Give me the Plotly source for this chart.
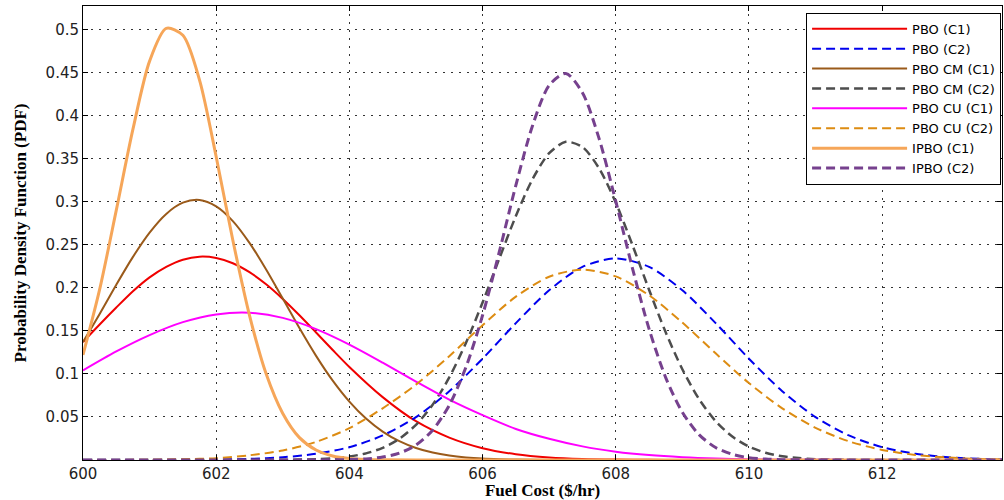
import plotly.graph_objects as go

# ---------------- data ----------------
X_HALF = [600, 600.5, 601, 601.5, 602, 602.5, 603, 603.5, 604, 604.5, 605, 605.5,
          606, 606.5, 607, 607.5, 608, 608.5, 609, 609.5, 610, 610.5, 611, 611.5,
          612, 612.5, 613, 613.5, 614]

X_PBO_C1 = [600, 600.25, 600.5, 600.75, 601, 601.25, 601.5, 601.75, 602, 602.25, 602.5, 602.75,
            603, 603.25, 603.5, 603.75, 604, 604.5, 605, 605.5, 606, 606.5, 607, 607.5,
            608, 608.5, 609, 609.5, 610, 610.5, 611, 611.5, 612, 612.5, 613, 613.5, 614]
PBO_C1 = [0.137, 0.1573, 0.177, 0.1959, 0.212, 0.2242, 0.2325, 0.236, 0.2345, 0.2284, 0.218, 0.204,
          0.187, 0.1681, 0.148, 0.1277, 0.108, 0.073, 0.045, 0.026, 0.0137, 0.0067, 0.003, 0.0012,
          0.0005, 0.0002, 0.0001, 0, 0, 0, 0, 0, 0, 0, 0, 0, 0]

PBO_C2 = [0, 0, 0.0001, 0.0002, 0.0005, 0.0013, 0.0032, 0.0072, 0.0149, 0.0285, 0.0498, 0.0799,
          0.1176, 0.1589, 0.197, 0.2242, 0.234, 0.2242, 0.197, 0.1589, 0.1176, 0.0799, 0.0498, 0.0285,
          0.0149, 0.0072, 0.0032, 0.0013, 0.0005]

PBO_CU_C1 = [0.104, 0.126, 0.145, 0.160, 0.169, 0.171, 0.165, 0.152, 0.134, 0.113, 0.091, 0.070,
             0.052, 0.036, 0.0246, 0.0158, 0.0097, 0.0057, 0.0032, 0.0017, 0.0009, 0.0004, 0.0002, 0.0001,
             0, 0, 0, 0, 0]

PBO_CU_C2 = [0, 0.0001, 0.0003, 0.0009, 0.0021, 0.0055, 0.011, 0.021, 0.037, 0.060, 0.0875, 0.1205,
             0.1565, 0.1896, 0.2127, 0.221, 0.2131, 0.1912, 0.1595, 0.1238, 0.0893, 0.060, 0.0374, 0.0217,
             0.0117, 0.0059, 0.0028, 0.0012, 0.0005]

X_CM_C1 = [600, 600.25, 600.5, 600.75, 601, 601.25, 601.5, 601.75, 602, 602.25, 602.5, 602.75,
           603, 603.25, 603.5, 603.75, 604, 604.25, 604.5, 604.75, 605, 605.25, 605.5, 605.75,
           606, 606.25, 606.5, 607, 614]
PBO_CM_C1 = [0.137, 0.1696, 0.2035, 0.2358, 0.264, 0.2857, 0.2987, 0.3018, 0.2944, 0.2773, 0.252, 0.2212,
             0.1874, 0.1532, 0.1209, 0.0921, 0.0678, 0.0481, 0.033, 0.0218, 0.0139, 0.0086, 0.0051, 0.0029,
             0.0016, 0.0009, 0.0005, 0.0001, 0]

X_CM_C2 = [600, 602, 602.5, 603, 603.5, 603.75, 604, 604.25, 604.5, 604.75, 605, 605.25,
           605.5, 605.75, 606, 606.25, 606.5, 606.75, 607, 607.25, 607.5, 607.75, 608, 608.25,
           608.5, 608.75, 609, 609.25, 609.5, 609.75, 610, 610.25, 610.5, 610.75, 611, 611.5,
           612, 614]
PBO_CM_C2 = [0, 0, 0, 0.0002, 0.0009, 0.0019, 0.004, 0.0077, 0.0141, 0.0246, 0.0408, 0.0642,
             0.0958, 0.1359, 0.1828, 0.2335, 0.2832, 0.3259, 0.3561, 0.3693, 0.3633, 0.3385, 0.2988, 0.2497,
             0.1977, 0.1482, 0.1053, 0.0708, 0.0451, 0.0272, 0.0155, 0.0084, 0.0043, 0.0022, 0.001, 0.0002,
             0, 0]

X_IPBO_C1 = [600, 600.25, 600.5, 600.75, 601, 601.25, 601.5, 601.75, 602, 602.25, 602.5, 602.75,
             603, 603.25, 603.5, 603.75, 604, 604.25, 604.5, 605, 614]
IPBO_C1 = [0.122, 0.198, 0.290, 0.384, 0.463, 0.501, 0.493, 0.441, 0.352, 0.255, 0.168, 0.100,
           0.054, 0.026, 0.0116, 0.0046, 0.0017, 0.0006, 0.0002, 0, 0]

X_IPBO_C2 = [600, 603, 603.5, 604, 604.25, 604.5, 604.75, 605, 605.25, 605.5, 605.75, 606,
             606.25, 606.5, 606.75, 607, 607.25, 607.5, 607.75, 608, 608.25, 608.5, 608.75, 609,
             609.25, 609.5, 609.75, 610, 610.25, 610.5, 611, 612, 614]
IPBO_C2 = [0, 0, 0.0001, 0.0005, 0.0013, 0.0034, 0.008, 0.0173, 0.0346, 0.0636, 0.1077, 0.168,
           0.2412, 0.3188, 0.388, 0.4349, 0.4487, 0.4263, 0.373, 0.3004, 0.2228, 0.1522, 0.0957, 0.0554,
           0.0295, 0.0145, 0.0066, 0.0027, 0.0011, 0.0004, 0.0001, 0, 0]

X_TICKS = [600, 602, 604, 606, 608, 610, 612]
X_TICK_LABELS = ["600", "602", "604", "606", "608", "610", "612"]
Y_TICKS = [0.05, 0.1, 0.15, 0.2, 0.25, 0.3, 0.35, 0.4, 0.45, 0.5]
Y_TICK_LABELS = ["0.05", "0.1", "0.15", "0.2", "0.25", "0.3", "0.35", "0.4", "0.45", "0.5"]

# ---------------- series styling ----------------
SERIES = [
    ("PBO (C1)", X_PBO_C1, PBO_C1, "#F00000", "solid", 2),
    ("PBO (C2)", X_HALF, PBO_C2, "#0000EE", "9px,5px", 2),
    ("PBO CM (C1)", X_CM_C1, PBO_CM_C1, "#9A5A1A", "solid", 2),
    ("PBO CM (C2)", X_CM_C2, PBO_CM_C2, "#4D4D4D", "9px,5px", 2.5),
    ("PBO CU (C1)", X_HALF, PBO_CU_C1, "#FF00FF", "solid", 2),
    ("PBO CU (C2)", X_HALF, PBO_CU_C2, "#DD8C12", "9px,5px", 2),
    ("IPBO (C1)", X_IPBO_C1, IPBO_C1, "#F6A659", "solid", 3),
    ("IPBO (C2)", X_IPBO_C2, IPBO_C2, "#76418E", "9px,5px", 3),
]

fig = go.Figure()
for name, xs, ys, color, dash, width in SERIES:
    fig.add_trace(go.Scatter(
        x=xs, y=ys, name=name, mode="lines",
        line=dict(color=color, dash=dash, width=width, shape="spline", smoothing=0.8),
    ))

axis_common = dict(
    showline=True, linecolor="black", linewidth=1, mirror="allticks",
    ticks="inside", ticklen=5, tickcolor="black",
    showgrid=True, gridcolor="#333333", gridwidth=1, griddash="2px,6px",
    zeroline=False, automargin=False,
    tickfont=dict(family="DejaVu Sans", size=15, color="#222222"),
)

fig.update_xaxes(
    range=[600, 613.8], tickvals=X_TICKS, ticktext=X_TICK_LABELS,
    title=dict(text="Fuel Cost ($/hr)", standoff=5,
               font=dict(family="Liberation Serif", size=17, color="black", weight="bold")),
    **axis_common,
)
fig.update_yaxes(
    range=[0, 0.527], tickvals=Y_TICKS, ticktext=Y_TICK_LABELS,
    title=dict(text="Probability Density Function (PDF)", standoff=14,
               font=dict(family="Liberation Serif", size=17, color="black", weight="bold")),
    **axis_common,
)

fig.update_layout(
    width=1004, height=500,
    margin=dict(l=83, r=2, t=6, b=40),
    paper_bgcolor="white", plot_bgcolor="white",
    legend=dict(
        x=0.999, y=0.985, xanchor="right", yanchor="top",
        bgcolor="white", bordercolor="black", borderwidth=1,
        font=dict(family="DejaVu Sans", size=13, color="black"),
        itemwidth=95, tracegroupgap=0,
    ),
)

fig.write_html("out.html")
